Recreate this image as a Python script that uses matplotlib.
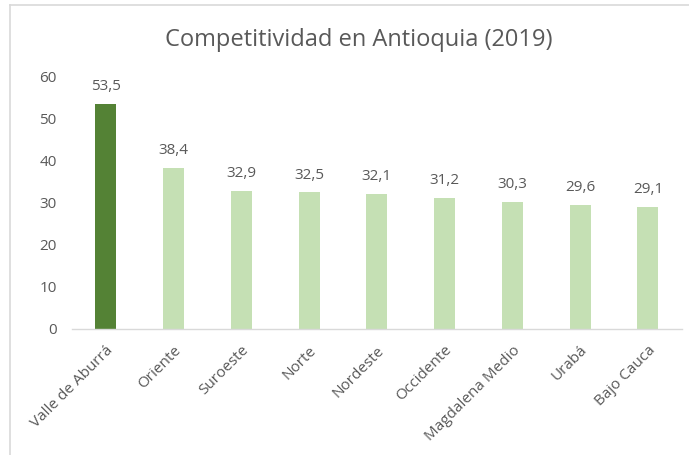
import matplotlib
matplotlib.use("Agg")
import matplotlib.pyplot as plt
from matplotlib.lines import Line2D

plt.rcParams['font.family'] = ['Open Sans', 'DejaVu Sans']

categories = ["Valle de Aburrá", "Oriente", "Suroeste", "Norte", "Nordeste",
              "Occidente", "Magdalena Medio", "Urabá", "Bajo Cauca"]
values = [53.5, 38.4, 32.9, 32.5, 32.1, 31.2, 30.3, 29.6, 29.1]
yticks = [0, 10, 20, 30, 40, 50, 60]

text_color = "#595959"
colors = ["#548235"] + ["#C5E0B4"] * (len(values) - 1)

fig = plt.figure(figsize=(6.89, 4.55), dpi=100)
ax = fig.add_axes([0.1045, 0.277, 0.885, 0.554])

x = list(range(len(categories)))
ax.bar(x, values, width=0.31, color=colors, zorder=2)
for xi, v in zip(x, values):
    ax.annotate(f"{v:.1f}".replace(".", ","), (xi, v), xytext=(0, 7),
                textcoords="offset points", ha="center", va="bottom",
                fontsize=11, color=text_color)

ax.set_xlim(-0.5, len(categories) - 0.5)
ax.set_ylim(0, 60)
ax.set_yticks(yticks)
ax.set_yticklabels([str(t) for t in yticks], fontsize=11, color=text_color)
ax.set_xticks(x)
ax.set_xticklabels(categories, rotation=45, ha="right", rotation_mode="anchor",
                   fontsize=11, color=text_color)
ax.tick_params(axis="both", length=0)
ax.tick_params(axis="y", pad=11)
ax.tick_params(axis="x", pad=10)
for s in ["top", "right", "left"]:
    ax.spines[s].set_visible(False)
ax.spines["bottom"].set_color("#D9D9D9")
ax.spines["bottom"].set_linewidth(1.0)

fig.text(0.52, 0.912, "Competitividad en Antioquia (2019)", ha="center", va="center",
         fontsize=17, color=text_color)

# chart area border (top and left visible)
fig.add_artist(Line2D([0.0145, 1.0], [0.989, 0.989], color="#D9D9D9", lw=1.2,
                      transform=fig.transFigure))
fig.add_artist(Line2D([0.0145, 0.0145], [0.0, 0.989], color="#D9D9D9", lw=1.2,
                      transform=fig.transFigure))

fig.savefig("out.png", dpi=100, facecolor="white")
